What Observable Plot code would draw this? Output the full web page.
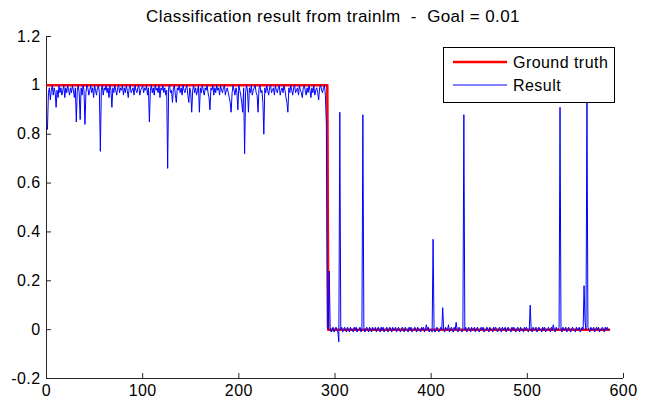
<!DOCTYPE html>
<html><head><meta charset="utf-8">
<script src="https://cdn.jsdelivr.net/npm/d3@7"></script>
<script src="https://cdn.jsdelivr.net/npm/@observablehq/plot@0.6"></script>
<style>
body{margin:0;background:#fff;font-family:"Liberation Sans",Arial,sans-serif;}
#wrap{position:relative;width:653px;height:401px;overflow:hidden;}
#title{position:absolute;left:44px;top:7px;width:578px;text-align:center;font-size:17px;letter-spacing:0.4px;line-height:20px;white-space:pre;color:#000;}
#legend{position:absolute;left:443px;top:47px;}
svg text{letter-spacing:0.45px;}
</style>
</head><body>
<div id="wrap"><div id="chart"></div><div id="title"></div><div id="legend"></div></div>
<script>
const titleText = "Classification result from trainlm  -  Goal = 0.01";
const seriesNames = ["Ground truth", "Result"];
const xDomain = [0, 600];
const yDomain = [-0.2, 1.2];
const xTicks = [0, 100, 200, 300, 400, 500, 600];
const yTicks = [-0.2, 0, 0.2, 0.4, 0.6, 0.8, 1, 1.2];

// Ground truth: step from 1 to 0
const truthX = [1, 292, 293, 585];
const truthY = [1, 1, 0, 0];

// Result values for sample index 1..585
const resultY = [
0.82,0.97,0.99,0.94,0.98,1.00,0.96,0.99,0.97,0.91,
0.98,0.95,1.00,0.97,0.99,0.96,0.98,1.00,0.95,0.99,
0.97,1.00,0.98,0.96,0.99,0.97,1.00,0.98,0.95,0.99,
0.85,0.98,1.00,0.97,0.86,0.99,0.96,1.00,0.98,0.84,
0.97,1.00,0.99,0.96,0.98,1.00,0.97,0.99,0.95,1.00,
0.98,0.96,0.99,1.00,0.97,0.73,0.98,1.00,0.96,0.99,
0.98,1.00,0.97,0.99,0.95,1.00,0.98,0.91,0.99,0.97,
1.00,0.98,0.96,0.99,1.00,0.97,0.99,0.98,1.00,0.96,
0.99,0.97,1.00,0.98,0.95,0.99,1.00,0.97,0.98,0.99,
0.96,1.00,0.98,0.97,0.99,1.00,0.96,0.98,0.99,1.00,
0.97,0.99,0.98,1.00,0.96,0.99,0.85,0.98,1.00,0.97,
0.99,0.96,1.00,0.98,0.99,0.97,1.00,0.95,0.99,0.98,
1.00,0.97,0.99,0.96,0.98,0.66,0.99,1.00,0.97,0.98,
0.93,0.99,1.00,0.96,0.93,0.99,0.98,1.00,0.97,0.99,
0.96,1.00,0.98,0.97,0.99,1.00,0.96,0.93,0.99,0.97,
0.89,0.98,1.00,0.97,0.99,0.96,0.98,1.00,0.89,0.99,
0.97,1.00,0.98,0.96,0.99,0.98,1.00,0.97,0.95,0.90,
0.99,0.98,1.00,0.96,0.99,0.97,1.00,0.98,0.99,0.96,
1.00,0.98,0.97,0.99,1.00,0.96,0.98,0.99,0.97,0.95,
0.93,0.89,0.97,1.00,0.98,0.96,0.99,0.97,0.90,1.00,
0.98,0.96,0.93,0.89,0.99,0.72,0.97,1.00,0.98,0.89,
0.99,0.97,1.00,0.96,0.98,0.99,1.00,0.97,0.96,0.89,
0.99,1.00,0.97,0.98,0.93,0.80,0.99,0.97,1.00,0.98,
0.96,0.99,1.00,0.97,0.98,0.99,0.96,1.00,0.98,0.97,
0.99,1.00,0.96,0.98,0.99,0.97,1.00,0.98,0.95,0.93,
0.89,0.99,0.97,1.00,0.98,0.96,0.99,1.00,0.97,0.98,
0.99,0.96,1.00,0.98,0.97,0.95,0.99,1.00,0.98,0.96,
0.99,0.97,1.00,0.98,0.95,0.99,0.97,1.00,0.96,0.98,
0.99,0.97,0.94,0.99,1.00,0.98,0.97,0.99,1.00,0.96,
0.84,0.01,
0.00,0.24,0.01,-0.01,0.00,0.01,-0.01,0.00,0.01,0.00,
-0.01,-0.05,0.89,0.00,0.01,-0.01,0.00,0.01,0.00,-0.01,
0.01,0.00,-0.01,0.01,0.00,0.00,-0.01,0.01,0.00,0.01,
-0.01,0.00,0.00,0.01,-0.01,0.00,0.88,0.01,-0.01,0.00,
0.01,0.00,-0.01,0.01,0.00,-0.01,0.01,0.00,0.00,0.01,
-0.01,0.00,0.01,0.00,-0.01,0.01,0.00,0.01,-0.01,0.00,
0.00,0.01,-0.01,0.00,0.01,0.00,-0.01,0.01,0.00,0.00,
0.01,-0.01,0.00,0.01,0.00,-0.01,0.00,0.01,0.00,-0.01,
0.01,0.00,0.00,-0.01,0.01,0.00,0.01,-0.01,0.00,0.00,
0.01,0.00,-0.01,0.01,0.00,0.00,-0.01,0.01,0.00,0.01,
-0.01,0.00,0.02,0.00,0.01,-0.01,0.00,0.00,-0.01,0.37,
0.00,-0.01,0.00,0.01,0.00,-0.01,0.00,0.01,0.00,0.09,
0.00,-0.01,0.01,0.00,0.00,0.02,-0.01,0.00,0.01,0.00,
-0.01,0.01,0.00,0.03,0.00,-0.01,0.01,0.00,0.00,-0.01,
0.00,0.88,0.00,0.01,-0.01,0.00,0.01,0.00,-0.01,0.01,
0.00,0.00,0.01,-0.01,0.00,0.01,0.00,-0.01,0.00,0.01,
0.00,0.01,-0.01,0.00,0.00,0.01,0.00,-0.01,0.01,0.00,
0.00,-0.01,0.01,0.00,0.01,0.00,-0.01,0.00,0.01,0.00,
-0.01,0.01,0.00,0.00,0.01,-0.01,0.00,0.01,0.00,0.00,
-0.01,0.01,0.00,0.01,0.00,-0.01,0.00,0.01,0.00,-0.01,
0.01,0.00,0.00,-0.01,0.01,0.00,0.01,0.00,-0.01,0.00,
0.10,0.00,-0.01,0.01,0.00,0.00,0.01,-0.01,0.00,0.01,
0.00,0.00,-0.01,0.01,0.00,0.01,-0.01,0.00,0.00,0.01,
0.00,-0.01,0.01,0.00,0.02,0.00,-0.01,0.01,0.00,0.00,
0.01,0.91,0.00,-0.01,0.01,0.00,0.00,0.01,-0.01,0.00,
0.01,0.00,-0.01,0.00,0.01,0.00,0.00,-0.01,0.01,0.00,
0.00,0.01,-0.01,0.00,0.01,0.00,0.18,0.03,0.00,0.97,
0.01,0.00,-0.01,0.01,0.00,0.00,0.01,-0.01,0.00,0.01,
0.00,0.01,-0.01,0.00,0.00,0.01,0.00,-0.01,0.01,0.00,
0.01,0.00,0.00
];

const truth = truthX.map((x, i) => ({x, y: truthY[i]}));
const result = resultY.map((y, i) => ({x: i + 1, y}));
const fmt = d => String(+(+d).toFixed(1));
const axisColor = "#262626";

const chart = Plot.plot({
  width: 653, height: 401,
  marginLeft: 46, marginRight: 30, marginTop: 36, marginBottom: 23,
  style: {fontFamily: "'Liberation Sans', Arial, sans-serif", fontSize: "16px", color: "#000", background: "#fff", overflow: "visible"},
  x: {domain: xDomain},
  y: {domain: yDomain},
  marks: [
    Plot.ruleX([xDomain[0]], {stroke: axisColor}),
    Plot.ruleY([yDomain[0]], {stroke: axisColor}),
    Plot.axisX({ticks: xTicks, tickSize: -5, tickPadding: 11, tickFormat: fmt, label: null, stroke: axisColor, fill: "#000"}),
    Plot.axisY({ticks: yTicks, tickSize: -5, tickPadding: 11, tickFormat: fmt, label: null, stroke: axisColor, fill: "#000"}),
    Plot.line(truth, {x: "x", y: "y", stroke: "#ff0000", strokeWidth: 2.5}),
    Plot.line(result, {x: "x", y: "y", stroke: "#0000ff", strokeWidth: 1})
  ]
});
document.getElementById("chart").appendChild(chart);
document.getElementById("title").textContent = titleText;

const colors = ["#ff0000", "#0000ff"];
const widths = [2.5, 1];
const lg = d3.select("#legend").append("svg").attr("width", 173).attr("height", 57);
lg.append("rect").attr("x", 0.5).attr("y", 0.5).attr("width", 171).attr("height", 55)
  .attr("fill", "#fff").attr("stroke", "#000").attr("stroke-width", 1);
seriesNames.forEach((name, i) => {
  const y = 15 + i * 23;
  lg.append("line").attr("x1", 10).attr("x2", 64).attr("y1", y).attr("y2", y)
    .attr("stroke", colors[i]).attr("stroke-width", widths[i]);
  lg.append("text").attr("x", 70).attr("y", y).attr("dy", "0.35em")
    .attr("font-size", 16).attr("font-family", "'Liberation Sans', Arial, sans-serif")
    .attr("fill", "#000").text(name);
});
</script>
</body></html>
